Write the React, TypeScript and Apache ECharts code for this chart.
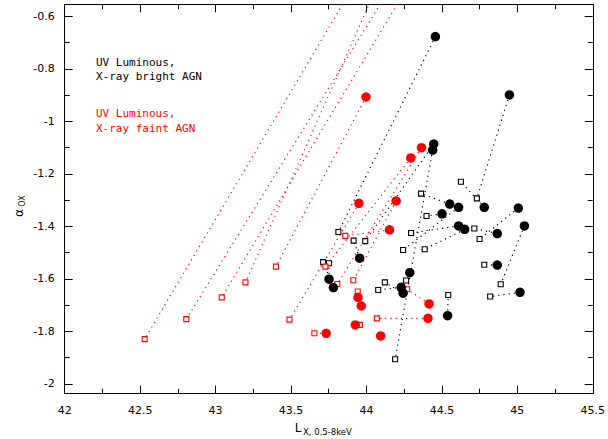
import React, { useEffect, useRef } from "react";
import * as echarts from "echarts";

// X-ray bright AGN (black): filled circles and their paired open squares
const brightLx = [44.457, 44.446, 44.439, 44.552, 44.611, 44.501, 44.611, 44.651, 43.955, 43.752, 43.781, 44.287, 44.23, 44.243, 44.538, 44.781, 45.007, 45.047, 44.867, 44.867, 45.018, 44.948];
const brightAox = [-0.677, -1.086, -1.109, -1.315, -1.327, -1.352, -1.398, -1.411, -1.521, -1.601, -1.633, -1.576, -1.632, -1.654, -1.74, -1.327, -1.33, -1.398, -1.427, -1.547, -1.651, -0.899];
const brightPairLx = [43.814, 43.992, 44.19, 44.362, 44.243, 44.398, 44.296, 44.386, 43.915, 43.752, 43.713, 44.263, 44.078, 44.122, 44.542, 44.626, 44.75, 44.89, 44.715, 44.781, 44.82, 44.732];
const brightPairAox = [-1.421, -1.456, -1.906, -1.275, -1.49, -1.36, -1.425, -1.487, -1.454, -1.54, -1.536, -1.606, -1.642, -1.613, -1.661, -1.23, -1.448, -1.62, -1.408, -1.546, -1.667, -1.293];

// X-ray faint AGN (red)
const faintLx = [43.997, 44.365, 44.294, 43.95, 44.197, 44.153, 43.944, 43.966, 43.926, 43.733, 44.094, 44.415, 44.408, 44.0, 44.256, 44.364, 44.137];
const faintAox = [-0.907, -1.1, -1.139, -1.312, -1.303, -1.413, -1.67, -1.703, -1.775, -1.807, -1.817, -1.695, -1.75, -0.4, -0.4, -0.4, -0.4];
const faintPairLx = [43.4, 43.807, 43.728, 43.49, 43.913, 43.86, 43.942, 43.966, 43.957, 43.655, 44.094, 44.27, 44.069, 42.53, 42.806, 43.041, 43.198];
const faintPairAox = [-1.553, -1.619, -1.553, -1.755, -1.605, -1.436, -1.648, -1.703, -1.775, -1.807, -1.817, -1.639, -1.75, -1.829, -1.753, -1.67, -1.613];

const yMajorTicks = [-2, -1.8, -1.6, -1.4, -1.2, -1, -0.8, -0.6];
const yMinorTicks = [-1.9, -1.7, -1.5, -1.3, -1.1, -0.9, -0.7];
const legendBright = ["UV Luminous,", "X-ray bright AGN"];
const legendFaint = ["UV Luminous,", "X-ray faint AGN"];

const Y_MIN = -2.037;
const Y_MAX = -0.554;
const FONT = "DejaVu Sans";
const RED = "#ff0000";

export default function App() {
  const ref = useRef<HTMLDivElement>(null);
  useEffect(() => {
    const chart = echarts.init(ref.current!, null, { renderer: "svg" });
    const series: any[] = [];
    const addLinks = (cx: number[], cy: number[], sx: number[], sy: number[], color: string) => {
      cx.forEach((x, i) => {
        series.push({
          type: "line",
          data: [[x, cy[i]], [sx[i], sy[i]]],
          symbol: "none",
          silent: true,
          clip: true,
          z: 1,
          lineStyle: { color, width: 1.2, type: [1.2, 4] },
        });
      });
    };
    addLinks(brightLx, brightAox, brightPairLx, brightPairAox, "#000");
    addLinks(faintLx, faintAox, faintPairLx, faintPairAox, RED);
    const sq = (xs: number[], ys: number[], color: string) => ({
      type: "scatter",
      data: xs.map((x, i) => [x, ys[i]]),
      symbol: "rect",
      symbolSize: 5,
      clip: true,
      z: 2,
      itemStyle: { color: "#fff", borderColor: color, borderWidth: 1.1, opacity: 1 },
    });
    const circ = (xs: number[], ys: number[], color: string) => ({
      type: "scatter",
      data: xs.map((x, i) => [x, ys[i]]),
      symbol: "circle",
      symbolSize: 9.5,
      clip: true,
      z: 3,
      itemStyle: { color, opacity: 1 },
    });
    series.push(sq(brightPairLx, brightPairAox, "#000"));
    series.push(sq(faintPairLx, faintPairAox, RED));
    series.push(circ(brightLx, brightAox, "#000"));
    series.push(circ(faintLx, faintAox, RED));

    const axisLine = { show: true, onZero: false, lineStyle: { color: "#000", width: 1 } };
    const labelStyle = { color: "#000", fontFamily: FONT, fontSize: 11 };
    const xBase = (pos: string, showLabel: boolean) => ({
      type: "value",
      position: pos,
      min: 42,
      max: 45.5,
      interval: 0.5,
      axisLine,
      axisTick: { show: true, inside: true, length: 8, lineStyle: { color: "#000", width: 1 } },
      minorTick: { show: true, splitNumber: 2, length: 5, lineStyle: { color: "#000", width: 1 } },
      axisLabel: { show: showLabel, ...labelStyle, margin: 11, showMinLabel: true, showMaxLabel: true, formatter: (v: number) => String(v) },
      splitLine: { show: false },
      minorSplitLine: { show: false },
    });
    const yBase = (pos: string, ticks: number[], len: number, showLabel: boolean, showLine: boolean) => ({
      type: "value",
      position: pos,
      min: Y_MIN,
      max: Y_MAX,
      axisLine: { ...axisLine, show: showLine },
      axisTick: { show: true, inside: true, length: len, customValues: ticks, lineStyle: { color: "#000", width: 1 } },
      axisLabel: { show: showLabel, customValues: ticks, ...labelStyle, margin: 10, formatter: (v: number) => String(Math.round(v * 10) / 10) },
      splitLine: { show: false },
    });

    const graphic: any[] = [];
    legendBright.forEach((t, i) => {
      graphic.push({ type: "text", x: 96, y: [62.5, 76.5][i], style: { text: t, fill: "#000", fontFamily: "DejaVu Sans Mono", fontSize: 11, textAlign: "left", textVerticalAlign: "middle" } });
    });
    legendFaint.forEach((t, i) => {
      graphic.push({ type: "text", x: 96, y: [113.3, 128.7][i], style: { text: t, fill: RED, fontFamily: "DejaVu Sans Mono", fontSize: 11, textAlign: "left", textVerticalAlign: "middle" } });
    });
    graphic.push({ type: "text", x: 298, y: 428, style: { text: "L", fill: "#000", fontFamily: FONT, fontSize: 12, textAlign: "center", textVerticalAlign: "middle" } });
    graphic.push({ type: "text", x: 303, y: 432, style: { text: "X, 0.5-8keV", fill: "#000", fontFamily: FONT, fontSize: 8.5, textAlign: "left", textVerticalAlign: "middle" } });
    graphic.push({ type: "text", x: 19, y: 213, rotation: Math.PI / 2, style: { text: "α", fill: "#000", fontFamily: FONT, fontSize: 12, textAlign: "center", textVerticalAlign: "middle" } });
    graphic.push({ type: "text", x: 22, y: 201, rotation: Math.PI / 2, style: { text: "OX", fill: "#000", fontFamily: FONT, fontSize: 8, textAlign: "center", textVerticalAlign: "middle" } });

    chart.setOption({
      animation: false,
      backgroundColor: "#fff",
      grid: { left: 64.7, right: 13.3, top: 4.3, bottom: 45.3, containLabel: false },
      xAxis: [xBase("bottom", true), xBase("top", false)],
      yAxis: [
        yBase("left", yMajorTicks, 8, true, true),
        yBase("right", yMajorTicks, 8, false, true),
        yBase("left", yMinorTicks, 5, false, false),
        yBase("right", yMinorTicks, 5, false, false),
      ],
      series,
      graphic,
    });
    return () => chart.dispose();
  }, []);
  return <div ref={ref} style={{ position: "fixed", left: 0, top: 0, width: 608, height: 439, background: "#fff" }} />;
}
